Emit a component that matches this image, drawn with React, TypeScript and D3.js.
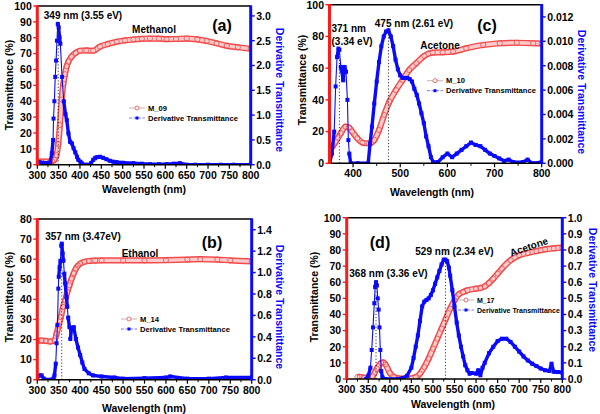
import React from 'react';
import * as d3 from 'd3';

// ---------- Panel (a) Methanol ----------
const aTWl = [300, 310, 320, 330, 335, 340, 345, 349, 353, 357, 361, 365, 369, 373, 380, 390, 400, 415, 431, 447, 465, 486, 505, 525, 545, 564, 585, 603, 625, 650, 675, 697, 720, 744, 770, 800];
const aT = [2, 2, 2, 2, 2.2, 3, 6, 13, 25, 41, 51, 57, 62, 65, 68, 70.5, 71.8, 72, 71.8, 74.4, 76, 77.5, 78.3, 78.9, 79.3, 79.5, 79.4, 79.1, 79.2, 79.5, 79, 78, 76.5, 74.9, 74, 73];
const aDWl = [300, 305, 310, 315, 320, 325, 330, 334, 337, 338, 340, 342, 344, 346, 348, 350, 352, 354, 358, 362, 366, 369, 373, 377, 381, 385, 389, 393, 396, 401, 404, 408, 415, 422, 426, 431, 435, 439, 447, 454, 462, 470, 478, 486, 500, 525, 545, 564, 585, 603, 620, 634, 650, 670, 700, 730, 760, 800];
const aD = [0.04, 0.05, 0.04, 0.03, 0.03, 0.03, 0.04, 0.23, 0.5, 0.93, 1.28, 1.77, 2.1, 2.5, 2.84, 2.77, 2.57, 2.44, 1.77, 1.28, 1.02, 0.9, 0.63, 0.46, 0.43, 0.33, 0.25, 0.16, 0.1, 0.06, 0.03, 0, 0, 0, 0.03, 0.1, 0.13, 0.15, 0.16, 0.14, 0.11, 0.08, 0.06, 0.05, 0.04, 0.03, 0.02, 0.01, 0.01, 0.01, 0.02, 0.03, 0, 0, 0, 0, 0, 0];

// ---------- Panel (b) Ethanol ----------
const bTWl = [300, 310, 320, 330, 340, 345, 350, 355, 360, 365, 370, 375, 380, 385, 390, 395, 400, 410, 420, 435, 450, 500, 550, 600, 650, 680, 720, 750, 800];
const bT = [19.5, 19.5, 19.3, 19, 19.5, 22.9, 27, 31.2, 36.2, 39.5, 43.7, 47, 50.3, 53, 55.3, 56.8, 57.8, 58.7, 59.1, 59.3, 59.4, 59.4, 59.4, 59.5, 59.8, 60, 59.8, 59.4, 58.9];
const bDWl = [300, 305, 310, 315, 320, 330, 338, 340, 343, 345, 347, 349, 350, 352, 354, 356, 357, 359, 361, 363, 365, 368, 370, 372, 375, 377, 380, 385, 390, 395, 400, 405, 410, 420, 430, 450, 480, 500, 550, 600, 610, 650, 700, 740, 800];
const bD = [0.02, 0.04, 0.04, 0.01, 0, 0, 0.01, 0.04, 0.15, 0.34, 0.51, 0.85, 0.96, 1.05, 1.11, 1.25, 1.27, 1.18, 1.11, 0.99, 0.9, 0.77, 0.68, 0.58, 0.49, 0.38, 0.48, 0.49, 0.38, 0.3, 0.23, 0.16, 0.1, 0.06, 0.04, 0.03, 0.02, 0.01, 0.015, 0.02, 0.03, 0.01, 0.01, 0.02, 0.02];

// ---------- Panel (c) Acetone, M_10 ----------
const cTWl = [350, 356, 363, 374, 384, 391, 398, 409, 420, 434, 445, 455, 466, 477, 491, 505, 519, 534, 551, 569, 590, 612, 640, 676, 711, 747, 782, 800];
const cT = [9.5, 10.4, 13.6, 18.9, 23.1, 22.7, 20, 15.8, 13, 12.6, 14.7, 21, 30.5, 38.9, 46.2, 52.5, 58.8, 63.1, 67.7, 69.8, 70, 70.4, 72.5, 74.6, 75.7, 76, 75.7, 75.5];
const cDWl = [350, 355, 360, 363, 366, 369, 371, 374, 376, 379, 382, 385, 388, 390, 392, 395, 410, 432, 436, 440, 445, 450, 455, 460, 465, 470, 475, 480, 485, 490, 495, 500, 505, 510, 515, 520, 525, 530, 535, 540, 545, 550, 555, 560, 565, 570, 580, 590, 600, 610, 620, 630, 640, 650, 660, 670, 680, 690, 700, 710, 720, 730, 740, 760, 770, 780, 800];
const cD = [0, 0.0008, 0.0026, 0.0063, 0.0087, 0.0094, 0.0093, 0.0079, 0.0076, 0.0068, 0.0079, 0.0075, 0.0052, 0.0019, 0.0008, 0, 0, 0, 0.0016, 0.003, 0.0049, 0.0067, 0.0083, 0.0096, 0.0104, 0.0108, 0.0109, 0.0104, 0.0096, 0.0085, 0.0077, 0.0072, 0.007, 0.007, 0.007, 0.0069, 0.0067, 0.0061, 0.0056, 0.0049, 0.0041, 0.0033, 0.0022, 0.0014, 0.0005, 0.0001, 0.0001, 0.0005, 0.0008, 0.0005, 0.0008, 0.0011, 0.0014, 0.0017, 0.0015, 0.0014, 0.0011, 0.0008, 0.0006, 0.0004, 0.0002, 0.0003, 0.0001, 0.0001, 0.0003, 0, 0.0001];

// ---------- Panel (d) Acetone, M_17 ----------
const dTWl = [325, 330, 340, 350, 360, 370, 380, 385, 390, 400, 410, 420, 440, 460, 470, 480, 490, 500, 510, 520, 530, 540, 550, 560, 570, 580, 600, 610, 620, 630, 640, 650, 660, 680, 700, 720, 740, 760, 780, 800];
const dT = [1.2, 1.4, 0.8, 0.4, 1.6, 6.4, 9.9, 10.3, 9.1, 3.7, 1.2, 0.4, 0.2, 1.2, 3.3, 7.4, 12.6, 18.8, 25, 31.2, 37.4, 43.6, 48.8, 52.5, 53.9, 55, 56, 56.4, 57.4, 59.5, 62.2, 65.3, 68.4, 73.6, 76.7, 78.1, 79.3, 80.4, 81, 81.4];
const dDWl = [345, 350, 355, 358, 361, 364, 366, 368, 370, 372, 374, 376, 378, 380, 383, 390, 420, 430, 440, 450, 455, 460, 465, 470, 475, 480, 485, 490, 495, 500, 505, 510, 515, 520, 525, 529, 533, 537, 540, 545, 550, 555, 560, 565, 570, 575, 580, 585, 590, 600, 605, 610, 615, 620, 630, 640, 650, 660, 670, 680, 690, 700, 710, 720, 730, 740, 750, 760, 770, 775, 780, 790, 800];
const dD = [0, 0.02, 0.07, 0.18, 0.32, 0.47, 0.57, 0.6, 0.58, 0.5, 0.43, 0.32, 0.18, 0.05, 0.01, 0, 0, 0.006, 0.02, 0.07, 0.13, 0.2, 0.27, 0.36, 0.45, 0.48, 0.49, 0.5, 0.52, 0.55, 0.59, 0.63, 0.67, 0.71, 0.74, 0.74, 0.73, 0.69, 0.64, 0.55, 0.45, 0.35, 0.27, 0.2, 0.14, 0.085, 0.054, 0.033, 0.037, 0.033, 0.054, 0.023, 0.07, 0.1, 0.16, 0.2, 0.235, 0.25, 0.25, 0.23, 0.2, 0.17, 0.14, 0.115, 0.095, 0.08, 0.065, 0.054, 0.05, 0.095, 0.045, 0.043, 0.04];

const FONT = '"Liberation Sans", Arial, Helvetica, sans-serif';
const RED = '#ff1a1a';
const BLUE = '#0a0aff';

type Note = { text: string; x: number; y: number; anchor?: string; size?: number; rotate?: number };
type PanelCfg = {
  box: { x0: number; x1: number; y0: number; y1: number };
  xDomain: [number, number]; xTicks: number[]; xMinor: number[];
  yL: [number, number]; yLTicks: number[];
  yR: [number, number]; yRTicks: number[]; yRFmt: string;
  tWl: number[]; t: number[]; dWl: number[]; d: number[];
  peaks: { wl: number; val: number }[];
  notes: Note[];
  legend: { x: number; y: number; name: string; size: number };
  titles: { lx: number; ly: number; rx: number; ry: number; bx: number; by: number };
};

const range = (a: number, b: number, s: number) => d3.range(a, b + s / 2, s);

const panels: PanelCfg[] = [
  {
    box: { x0: 37.3, x1: 250.7, y0: 6, y1: 164.7 },
    xDomain: [300, 800], xTicks: range(300, 800, 50), xMinor: range(325, 775, 50),
    yL: [0, 100], yLTicks: range(0, 100, 10),
    yR: [0, 3.2], yRTicks: range(0, 3, 0.5), yRFmt: '.1f',
    tWl: aTWl, t: aT, dWl: aDWl, d: aD,
    peaks: [{ wl: 349, val: 2.84 }],
    notes: [
      { text: '349 nm (3.55 eV)', x: 83, y: 18.5 },
      { text: 'Methanol', x: 154, y: 32.5 },
      { text: '(a)', x: 222, y: 30.5, size: 16 },
    ],
    legend: { x: 129, y: 108, name: 'M_09', size: 7.6 },
    titles: { lx: 9, ly: 85, rx: 280, ry: 90, bx: 144, by: 189 },
  },
  {
    box: { x0: 37.3, x1: 251.7, y0: 219, y1: 379.7 },
    xDomain: [300, 800], xTicks: range(300, 800, 50), xMinor: range(325, 775, 50),
    yL: [0, 80], yLTicks: range(0, 80, 10),
    yR: [0, 1.5], yRTicks: range(0, 1.4, 0.2), yRFmt: '.1f',
    tWl: bTWl, t: bT, dWl: bDWl, d: bD,
    peaks: [{ wl: 357, val: 1.27 }],
    notes: [
      { text: '357 nm (3.47eV)', x: 83, y: 239.5 },
      { text: 'Ethanol', x: 140, y: 257 },
      { text: '(b)', x: 212, y: 247.5, size: 16 },
    ],
    legend: { x: 121, y: 319, name: 'M_14', size: 7.6 },
    titles: { lx: 9, ly: 297, rx: 280, ry: 307, bx: 144, by: 408 },
  },
  {
    box: { x0: 329.5, x1: 541.7, y0: 4.7, y1: 163.3 },
    xDomain: [350, 800], xTicks: range(400, 800, 100), xMinor: range(450, 750, 100),
    yL: [0, 100], yLTicks: range(0, 100, 20),
    yR: [0, 0.013], yRTicks: range(0, 0.012, 0.002), yRFmt: '.3f',
    tWl: cTWl, t: cT, dWl: cDWl, d: cD,
    peaks: [{ wl: 371, val: 0.0094 }, { wl: 475, val: 0.0109 }],
    notes: [
      { text: '371 nm', x: 331.5, y: 31.5, anchor: 'start' },
      { text: '(3.34 eV)', x: 331.5, y: 44.5, anchor: 'start' },
      { text: '475 nm (2.61 eV)', x: 414, y: 26.5 },
      { text: 'Acetone', x: 440, y: 48.5 },
      { text: '(c)', x: 487, y: 30.5, size: 16 },
    ],
    legend: { x: 427, y: 80.7, name: 'M_10', size: 7.6 },
    titles: { lx: 302, ly: 80, rx: 582, ry: 92, bx: 432, by: 192 },
  },
  {
    box: { x0: 346.7, x1: 562.3, y0: 217.7, y1: 379 },
    xDomain: [300, 800], xTicks: range(300, 800, 50), xMinor: range(325, 775, 50),
    yL: [0, 100], yLTicks: range(0, 100, 10),
    yR: [0, 1.0], yRTicks: range(0, 1.0, 0.1), yRFmt: '.1f',
    tWl: dTWl, t: dT, dWl: dDWl, d: dD,
    peaks: [{ wl: 368, val: 0.6 }, { wl: 529, val: 0.74 }],
    notes: [
      { text: '368 nm (3.36 eV)', x: 388.5, y: 277 },
      { text: '529 nm (2.34 eV)', x: 454.5, y: 255 },
      { text: 'Acetone', x: 530, y: 250, rotate: -19 },
      { text: '(d)', x: 380, y: 247.5, size: 16 },
    ],
    legend: { x: 458, y: 300, name: 'M_17', size: 7 },
    titles: { lx: 314, ly: 297, rx: 593, ry: 290, bx: 453, by: 404 },
  },
];

function Panel({ cfg, idx }: { cfg: PanelCfg; idx: number }) {
  const { box } = cfg;
  const x = d3.scaleLinear().domain(cfg.xDomain).range([box.x0, box.x1]);
  const yl = d3.scaleLinear().domain(cfg.yL).range([box.y1, box.y0]);
  const yr = d3.scaleLinear().domain(cfg.yR).range([box.y1, box.y0]);
  const fmtR = d3.format(cfg.yRFmt);

  const tPts = cfg.tWl.map((w, i) => [w, cfg.t[i]] as [number, number]);
  const dPts = cfg.dWl.map((w, i) => [w, cfg.d[i]] as [number, number]);
  const tLine = d3.line<[number, number]>().x(p => x(p[0])).y(p => yl(p[1])).curve(d3.curveMonotoneX);
  const clipId = `clip${idx}`;
  const tickFs = 10.5;
  const lg = cfg.legend;
  const pxPerNm = Math.abs(x(cfg.xDomain[1]) - x(cfg.xDomain[0])) / (cfg.xDomain[1] - cfg.xDomain[0]);

  // derivative segments: thick where the (dense) measured squares would overlap, thin on steep flanks
  const segs = d3.pairs(dPts).map(([p, q]) => {
    const dw = q[0] - p[0];
    const slope = Math.abs(yr(q[1]) - yr(p[1])) / dw;
    const step = 2 * Math.sqrt(pxPerNm * pxPerNm + slope * slope);
    return { p, q, w: step < 10 ? 3.4 : 1.1 };
  });

  return (
    <g>
      <defs>
        <clipPath id={clipId}>
          <rect x={box.x0} y={box.y0 - 2} width={box.x1 - box.x0} height={box.y1 - box.y0 + 2} />
        </clipPath>
      </defs>
      <g clipPath={`url(#${clipId})`}>
        {/* transmittance band: dense open circles */}
        <path d={tLine(tPts) || ''} fill="none" stroke="#f24a4a" strokeWidth={6.2} strokeLinejoin="round" />
        <path d={tLine(tPts) || ''} fill="none" stroke="#fbcaca" strokeWidth={3.4} strokeLinejoin="round" />
        {tPts.map((p, i) => (
          <circle key={i} cx={x(p[0])} cy={yl(p[1])} r={2.6} fill="none" stroke="#f24a4a" strokeWidth={0.8} />
        ))}
        {/* derivative: blue squares joined by line */}
        {segs.map((s, i) => (
          <line key={i} x1={x(s.p[0])} y1={yr(s.p[1])} x2={x(s.q[0])} y2={yr(s.q[1])} stroke={BLUE} strokeWidth={s.w} strokeLinecap="round" />
        ))}
        {dPts.map((p, i) => (
          <rect key={i} x={x(p[0]) - 2} y={yr(p[1]) - 2} width={4} height={4} fill={BLUE} />
        ))}
        {cfg.peaks.map((pk, i) => (
          <line key={i} x1={x(pk.wl)} x2={x(pk.wl)} y1={box.y1} y2={yr(pk.val)} stroke="#222" strokeWidth={0.9} strokeDasharray="1.2,2" />
        ))}
      </g>

      {/* frame */}
      <line x1={box.x0} x2={box.x1} y1={box.y0} y2={box.y0} stroke="#000" strokeWidth={1.4} />
      <line x1={box.x0} x2={box.x1} y1={box.y1} y2={box.y1} stroke="#000" strokeWidth={1.4} />
      <line x1={box.x0} x2={box.x0} y1={box.y0 - 0.7} y2={box.y1 + 0.7} stroke={RED} strokeWidth={3} />
      <line x1={box.x1} x2={box.x1} y1={box.y0 - 0.7} y2={box.y1 + 0.7} stroke={BLUE} strokeWidth={3} />

      {/* x ticks */}
      {cfg.xTicks.map(t => (
        <g key={t}>
          <line x1={x(t)} x2={x(t)} y1={box.y1} y2={box.y1 + 4} stroke="#000" strokeWidth={1.2} />
          <text x={x(t)} y={box.y1 + 14} textAnchor="middle" fontSize={tickFs} fontWeight="bold" fontFamily={FONT}>{t}</text>
        </g>
      ))}
      {cfg.xMinor.map(t => (
        <line key={t} x1={x(t)} x2={x(t)} y1={box.y1} y2={box.y1 + 2.5} stroke="#000" strokeWidth={1} />
      ))}
      {/* left ticks */}
      {cfg.yLTicks.map(t => (
        <g key={t}>
          <line x1={box.x0 - 4} x2={box.x0} y1={yl(t)} y2={yl(t)} stroke={RED} strokeWidth={1.4} />
          <text x={box.x0 - 5.5} y={yl(t) + 3.8} textAnchor="end" fontSize={tickFs} fontWeight="bold" fontFamily={FONT}>{t}</text>
        </g>
      ))}
      {/* right ticks */}
      {cfg.yRTicks.map(t => (
        <g key={t}>
          <line x1={box.x1} x2={box.x1 + 4} y1={yr(t)} y2={yr(t)} stroke={BLUE} strokeWidth={1.4} />
          <text x={box.x1 + 5.5} y={yr(t) + 3.8} textAnchor="start" fontSize={tickFs} fontWeight="bold" fontFamily={FONT}>{fmtR(t)}</text>
        </g>
      ))}

      {/* axis titles */}
      <text transform={`translate(${cfg.titles.lx},${cfg.titles.ly}) rotate(-90)`} textAnchor="middle" dominantBaseline="central" fontSize={10.5} fontWeight="bold" fontFamily={FONT}>Transmittance (%)</text>
      <text transform={`translate(${cfg.titles.rx},${cfg.titles.ry}) rotate(90)`} textAnchor="middle" dominantBaseline="central" fontSize={10.5} fontWeight="bold" fontFamily={FONT} fill={BLUE}>Derivative Transmittance</text>
      <text x={cfg.titles.bx} y={cfg.titles.by} textAnchor="middle" dominantBaseline="central" fontSize={10.5} fontWeight="bold" fontFamily={FONT}>Wavelength (nm)</text>

      {/* annotations */}
      {cfg.notes.map((n, i) => (
        <text key={i} transform={`translate(${n.x},${n.y}) rotate(${n.rotate || 0})`} textAnchor={n.anchor || 'middle'} fontSize={n.size || 10} fontWeight="bold" fontFamily={FONT}>{n.text}</text>
      ))}

      {/* legend */}
      <g>
        <line x1={lg.x} x2={lg.x + 16} y1={lg.y} y2={lg.y} stroke="#c8b4b4" strokeWidth={1} />
        <circle cx={lg.x + 8} cy={lg.y} r={2} fill="#fff" stroke="#f24a4a" strokeWidth={0.8} />
        <text x={lg.x + 19} y={lg.y + 2.6} fontSize={lg.size} fontWeight="bold" fontFamily={FONT}>{lg.name}</text>
        <line x1={lg.x} x2={lg.x + 16} y1={lg.y + 10} y2={lg.y + 10} stroke="#7a7aff" strokeWidth={1} strokeDasharray="3,1.5" />
        <rect x={lg.x + 6.5} y={lg.y + 8.5} width={3} height={3} fill={BLUE} />
        <text x={lg.x + 19} y={lg.y + 12.6} fontSize={lg.size} fontWeight="bold" fontFamily={FONT}>Derivative Transmittance</text>
      </g>
    </g>
  );
}

export default function App() {
  return (
    <svg width={600} height={414} style={{ position: 'absolute', left: 0, top: 0, background: '#fff' }}>
      <rect width={600} height={414} fill="#fff" />
      {panels.map((p, i) => <Panel key={i} cfg={p} idx={i} />)}
    </svg>
  );
}
